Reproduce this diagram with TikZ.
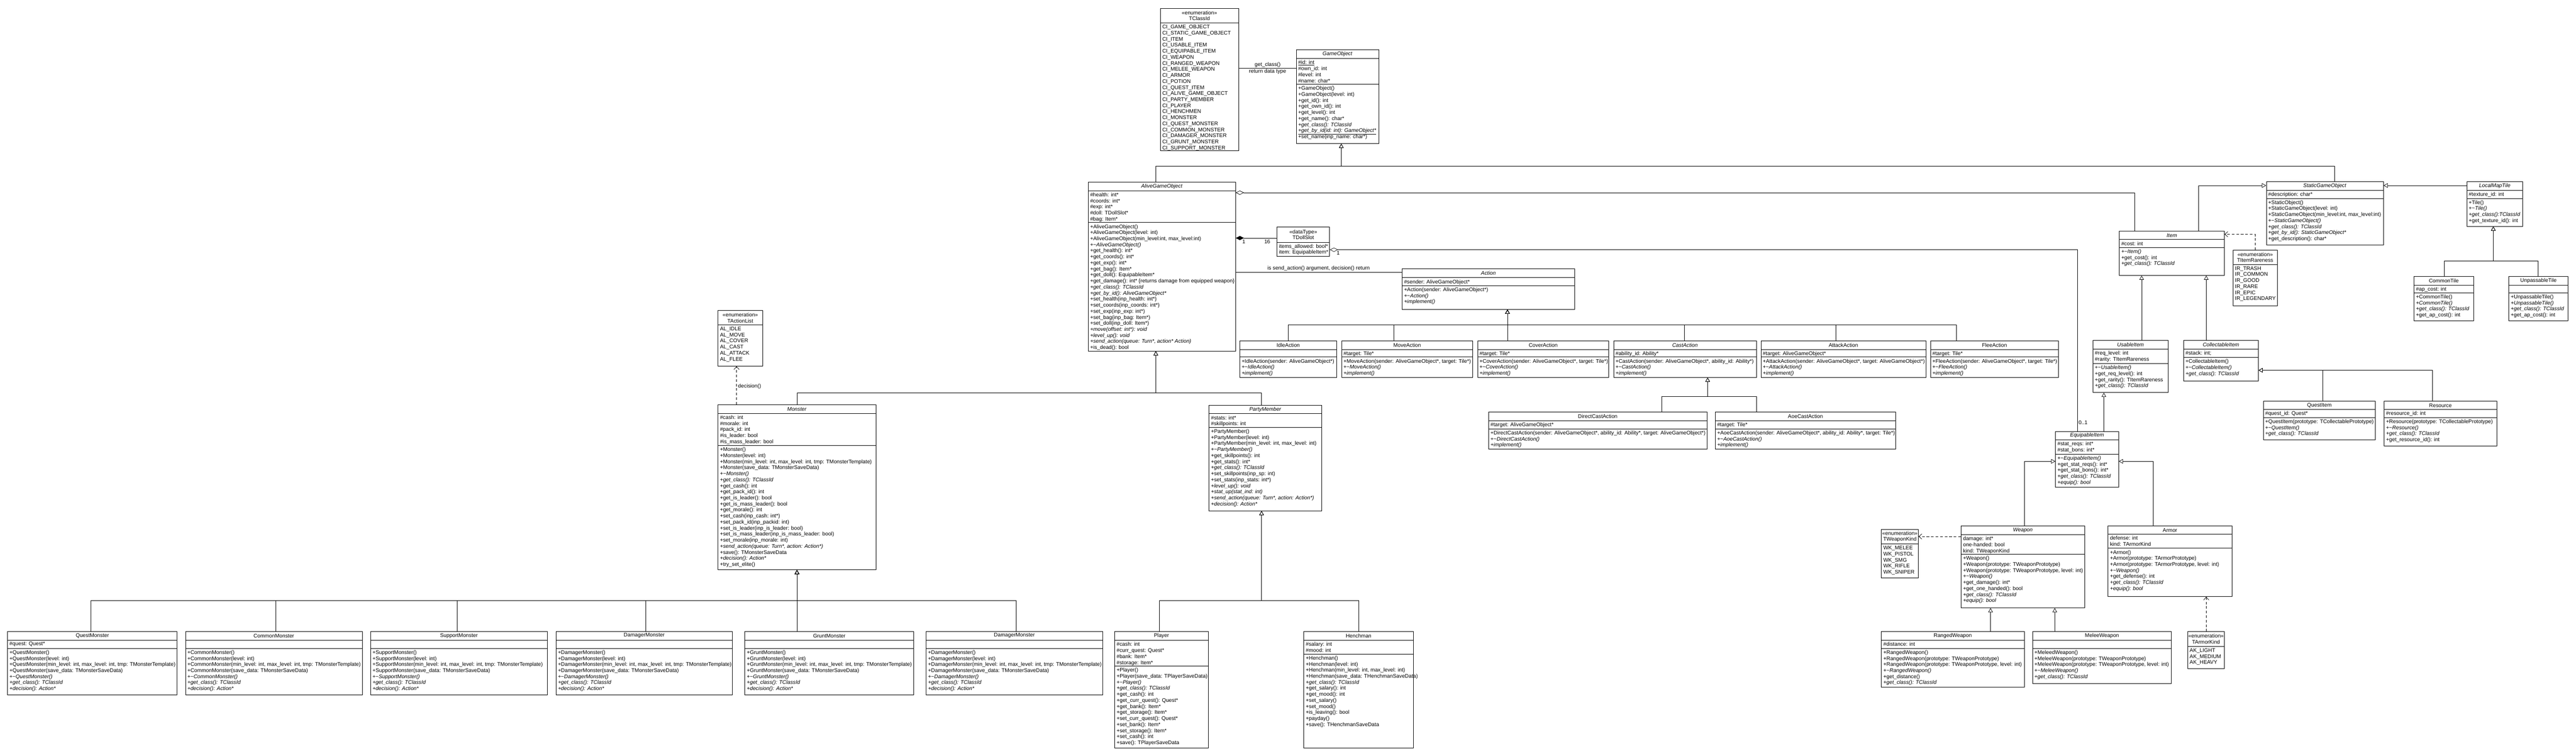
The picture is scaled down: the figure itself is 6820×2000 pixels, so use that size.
\documentclass[tikz,border=0pt]{standalone}
\usepackage{fontspec}
\setmainfont{Liberation Sans}
\usetikzlibrary{arrows.meta,fit}
\newcommand{\tld}{\textasciitilde}
\newcommand{\dtor}[1]{+\tld\textit{#1}}
\newcommand{\gcl}{\textit{+get\_class(): TClassId}}
\newcommand{\impl}{\textit{+implement()}}
\newcommand{\monmeth}[1]{+#1()\\+#1(level: int)\\+#1(min\_level: int, max\_level: int, tmp: TMonsterTemplate)\\+#1(save\_data: TMonsterSaveData)\\\dtor{#1()}\\\gcl\\\textit{+decision(): Action*}}
\newcommand{\umlbox}[8]{%
  \node[umlframe, fit={(#2,#3) (#4,#5)}] (#1) {};
  \draw[umlsep] (#2,#6) -- (#4,#6);
  \ifx\relax#7\relax\else\draw[umlsep] (#2,#7) -- (#4,#7);\fi
  \node[umltitle] at ({(#2+#4)/2},{(#3+#6)/2}) {#8};
}
\newcommand{\utext}[3]{\node[umltext] at ({#1+5},{#2+5}) {#3};}
\tikzset{
  umlframe/.style={draw, line width=1pt, inner sep=0pt},
  umlsep/.style={line width=1pt},
  umltitle/.style={align=center, inner sep=0pt},
  umltext/.style={anchor=north west, align=left, inner sep=0pt},
  gen/.style={line width=1pt, -{Triangle[open,length=11pt,width=12pt]}},
  dep/.style={line width=1pt, dash pattern=on 7pt off 5pt, -{Straight Barb[length=8pt,width=14pt]}},
  agg/.style={line width=1pt, {Diamond[open,length=22pt,width=11pt]}-},
  comp/.style={line width=1pt, {Diamond[length=22pt,width=11pt]}-},
  assoc/.style={line width=1pt},
  lbl/.style={inner sep=0pt},
}
\begin{document}
\begin{tikzpicture}[x=1pt, y=-1pt, every node/.append style={font=\fontsize{14}{16}\selectfont}]
\useasboundingbox (0,0) rectangle (6820,2000);
\fill[white] (0,0) rectangle (6820,2000);

% ---------- TClassId ----------
\umlbox{tclassid}{3072}{22}{3279}{399}{61}{}{«enumeration»\\TClassId}
\utext{3072}{61}{CI\_GAME\_OBJECT\\CI\_STATIC\_GAME\_OBJECT\\CI\_ITEM\\CI\_USABLE\_ITEM\\CI\_EQUIPABLE\_ITEM\\CI\_WEAPON\\CI\_RANGED\_WEAPON\\CI\_MELEE\_WEAPON\\CI\_ARMOR\\CI\_POTION\\CI\_QUEST\_ITEM\\CI\_ALIVE\_GAME\_OBJECT\\CI\_PARTY\_MEMBER\\CI\_PLAYER\\CI\_HENCHMEN\\CI\_MONSTER\\CI\_QUEST\_MONSTER\\CI\_COMMON\_MONSTER\\CI\_DAMAGER\_MONSTER\\CI\_GRUNT\_MONSTER\\CI\_SUPPORT\_MONSTER}

% ---------- GameObject ----------
\umlbox{gameobj}{3432}{131}{3650}{380}{155}{223}{\textit{GameObject}}
\utext{3432}{155}{\underline{\#id: int}\\\#own\_id: int\\\#level: int\\\#name: char*}
\utext{3432}{223}{+GameObject()\\+GameObject(level: int)\\+get\_id(): int\\+get\_own\_id(): int\\+get\_level(): int\\+get\_name(): char*\\\gcl\\\underline{\textit{+get\_by\_id(id: int): GameObject*}}\\+set\_name(inp\_name: char*)}

% ---------- AliveGameObject ----------
\umlbox{alive}{2881}{482}{3271}{929}{505}{589}{\textit{AliveGameObject}}
\utext{2881}{505}{\#health: int*\\\#coords: int*\\\#exp: int*\\\#doll: TDollSlot*\\\#bag: Item*}
\utext{2881}{589}{+AliveGameObject()\\+AliveGameObject(level: int)\\+AliveGameObject(min\_level:int, max\_level:int)\\\dtor{AliveGameObject()}\\+get\_health(): int*\\+get\_coords(): int*\\+get\_exp(): int*\\+get\_bag(): Item*\\+get\_doll(): EquipableItem*\\+get\_damage(): int* \{returns damage from equipped weapon\}\\\gcl\\\textit{+get\_by\_id(): AliveGameObject*}\\+set\_health(inp\_health: int*)\\+set\_coords(inp\_coords: int*)\\+set\_exp(inp\_exp: int*)\\+set\_bag(inp\_bag: Item*)\\+set\_doll(inp\_doll: Item*)\\\textit{+move(offset: int*): void}\\\textit{+level\_up(): void}\\\textit{+send\_action(queue: Turn*, action* Action)}\\+is\_dead(): bool}

% ---------- TDollSlot ----------
\umlbox{dollslot}{3381}{601}{3520}{679}{641}{}{«dataType»\\TDollSlot}
\utext{3381}{641}{items\_allowed: bool*\\item: EquipableItem*}

% ---------- Action ----------
\umlbox{action}{3712}{711}{4169}{819}{735}{756}{\textit{Action}}
\utext{3712}{735}{\#sender: AliveGameObject*}
\utext{3712}{756}{+Action(sender: AliveGameObject*)\\\dtor{Action()}\\\impl}

\umlbox{idle}{3282}{902}{3539}{999}{925}{945}{IdleAction}
\utext{3282}{945}{+IdleAction(sender: AliveGameObject*)\\\dtor{IdleAction()}\\\impl}
\umlbox{move}{3552}{902}{3899}{999}{925}{945}{MoveAction}
\utext{3552}{925}{\#target: Tile*}
\utext{3552}{945}{+MoveAction(sender: AliveGameObject*, target: Tile*)\\\dtor{MoveAction()}\\\impl}
\umlbox{cover}{3912}{902}{4259}{999}{925}{945}{CoverAction}
\utext{3912}{925}{\#target: Tile*}
\utext{3912}{945}{+CoverAction(sender: AliveGameObject*, target: Tile*)\\\dtor{CoverAction()}\\\impl}
\umlbox{cast}{4272}{902}{4650}{999}{925}{945}{\textit{CastAction}}
\utext{4272}{925}{\#ability\_id: Ability*}
\utext{4272}{945}{+CastAction(sender: AliveGameObject*, ability\_id: Ability*)\\\dtor{CastAction()}\\\impl}
\umlbox{attack}{4662}{902}{5099}{999}{925}{945}{AttackAction}
\utext{4662}{925}{\#target: AliveGameObject*}
\utext{4662}{945}{+AttackAction(sender: AliveGameObject*, target: AliveGameObject*)\\\dtor{AttackAction()}\\\impl}
\umlbox{flee}{5111}{902}{5450}{999}{925}{945}{FleeAction}
\utext{5111}{925}{\#target: Tile*}
\utext{5111}{945}{+FleeAction(sender: AliveGameObject*, target: Tile*)\\\dtor{FleeAction()}\\\impl}

\umlbox{direct}{3941}{1091}{4519}{1189}{1114}{1135}{DirectCastAction}
\utext{3941}{1114}{\#target: AliveGameObject*}
\utext{3941}{1135}{+DirectCastAction(sender: AliveGameObject*, ability\_id: Ability*, target: AliveGameObject*)\\\dtor{DirectCastAction()}\\\impl}
\umlbox{aoe}{4541}{1091}{5019}{1189}{1114}{1135}{AoeCastAction}
\utext{4541}{1114}{\#target: Tile*}
\utext{4541}{1135}{+AoeCastAction(sender: AliveGameObject*, ability\_id: Ability*, target: Tile*)\\\dtor{AoeCastAction()}\\\impl}

% ---------- TActionList / Monster ----------
\umlbox{actlist}{1901}{822}{2019}{969}{860}{}{«enumeration»\\TActionList}
\utext{1901}{860}{AL\_IDLE\\AL\_MOVE\\AL\_COVER\\AL\_CAST\\AL\_ATTACK\\AL\_FLEE}

\umlbox{monster}{1901}{1071}{2319}{1508}{1094}{1179}{\textit{Monster}}
\utext{1901}{1094}{\#cash: int\\\#morale: int\\\#pack\_id: int\\\#is\_leader: bool\\\#is\_mass\_leader: bool}
\utext{1901}{1179}{+Monster()\\+Monster(level: int)\\+Monster(min\_level: int, max\_level: int, tmp: TMonsterTemplate)\\+Monster(save\_data: TMonsterSaveData)\\\dtor{Monster()}\\\gcl\\+get\_cash(): int\\+get\_pack\_id(): int\\+get\_is\_leader(): bool\\+get\_is\_mass\_leader(): bool\\+get\_morale(): int\\+set\_cash(inp\_cash: int*)\\+set\_pack\_id(inp\_packid: int)\\+set\_is\_leader(inp\_is\_leader: bool)\\+set\_is\_mass\_leader(inp\_is\_mass\_leader: bool)\\+set\_morale(inp\_morale: int)\\\textit{+send\_action(queue: Turn*, action: Action*)}\\+save(): TMonsterSaveData\\\textit{+decision(): Action*}\\+try\_set\_elite()}

% ---------- PartyMember ----------
\umlbox{party}{3201}{1072}{3499}{1352}{1095}{1131}{\textit{PartyMember}}
\utext{3201}{1095}{\#stats: int*\\\#skillpoints: int}
\utext{3201}{1131}{+PartyMember()\\+PartyMember(level: int)\\+PartyMember(min\_level: int, max\_level: int)\\\dtor{PartyMember()}\\+get\_skillpoints(): int\\+get\_stats(): int*\\\gcl\\+set\_skillpoints(inp\_sp: int)\\+set\_stats(inp\_stats: int*)\\\textit{+level\_up(): void}\\\textit{+stat\_up(stat\_ind: int)}\\\textit{+send\_action(queue: Turn*, action: Action*)}\\\textit{+decision(): Action*}}

% ---------- Monster subclasses ----------
\umlbox{questm}{20}{1671}{469}{1839}{1694}{1716}{QuestMonster}
\utext{20}{1694}{\#quest: Quest*}
\utext{20}{1716}{\monmeth{QuestMonster}}
\umlbox{commonm}{491}{1671}{959}{1839}{1694}{1716}{CommonMonster}
\utext{491}{1716}{\monmeth{CommonMonster}}
\umlbox{supportm}{981}{1671}{1449}{1839}{1694}{1716}{SupportMonster}
\utext{981}{1716}{\monmeth{SupportMonster}}
\umlbox{damagerm}{1472}{1671}{1939}{1839}{1694}{1716}{DamagerMonster}
\utext{1472}{1716}{\monmeth{DamagerMonster}}
\umlbox{gruntm}{1972}{1671}{2419}{1839}{1694}{1716}{GruntMonster}
\utext{1972}{1716}{\monmeth{GruntMonster}}
\umlbox{damagermb}{2452}{1671}{2919}{1839}{1694}{1716}{DamagerMonster}
\utext{2452}{1716}{\monmeth{DamagerMonster}}

% ---------- Player / Henchman ----------
\umlbox{player}{2951}{1671}{3199}{1979}{1695}{1763}{Player}
\utext{2951}{1695}{\#cash: int\\\#curr\_quest: Quest*\\\#bank: Item*\\\#storage: Item*}
\utext{2951}{1763}{+Player()\\+Player(save\_data: TPlayerSaveData)\\\dtor{Player()}\\\gcl\\+get\_cash(): int\\+get\_curr\_quest(): Quest*\\+get\_bank(): Item*\\+get\_storage(): Item*\\+set\_curr\_quest(): Quest*\\+set\_bank(): Item*\\+set\_storage(): Item*\\+set\_cash(): int\\+save(): TPlayerSaveData}
\umlbox{hench}{3452}{1671}{3742}{1979}{1695}{1731}{Henchman}
\utext{3452}{1695}{\#salary: int\\\#mood: int}
\utext{3452}{1731}{+Henchman()\\+Henchman(level: int)\\+Henchman(min\_level: int, max\_level: int)\\+Henchman(save\_data: THenchmanSaveData)\\\gcl\\+get\_salary(): int\\+get\_mood(): int\\+set\_salary()\\+set\_mood()\\+is\_leaving(): bool\\+payday()\\+save(): THenchmanSaveData}

% ---------- Static objects ----------
\umlbox{static}{6000}{481}{6310}{649}{504}{525}{\textit{StaticGameObject}}
\utext{6000}{504}{\#description: char*}
\utext{6000}{525}{+StaticObject()\\+StaticGameObject(level: int)\\+StaticGameObject(min\_level:int, max\_level:int)\\\dtor{StaticGameObject()}\\\gcl\\\textit{+get\_by\_id(): StaticGameObject*}\\+get\_description(): char*}
\umlbox{tile}{6531}{481}{6679}{599}{504}{525}{\textit{LocalMapTile}}
\utext{6531}{504}{\#texture\_id: int}
\utext{6531}{525}{+Tile()\\\dtor{Tile()}\\\textit{+get\_class():TClassId}\\+get\_texture\_id(): int}
\umlbox{ctile}{6391}{731}{6549}{849}{755}{775}{CommonTile}
\utext{6391}{755}{\#ap\_cost: int}
\utext{6391}{775}{+CommonTile()\\\textit{+CommonTile()}\\\gcl\\+get\_ap\_cost(): int}
\umlbox{utile}{6642}{731}{6799}{849}{755}{775}{UnpassableTile}
\utext{6642}{775}{+UnpassableTile()\\\textit{+UnpassableTile()}\\\gcl\\+get\_ap\_cost(): int}

% ---------- Items ----------
\umlbox{item}{5611}{612}{5889}{729}{634}{655}{\textit{Item}}
\utext{5611}{634}{\#cost: int}
\utext{5611}{655}{\dtor{Item()}\\+get\_cost(): int\\\gcl}
\umlbox{rare}{5912}{662}{6029}{809}{700}{}{«enumeration»\\TItemRareness}
\utext{5912}{700}{IR\_TRASH\\IR\_COMMON\\IR\_GOOD\\IR\_RARE\\IR\_EPIC\\IR\_LEGENDARY}
\umlbox{usable}{5541}{901}{5740}{1039}{924}{962}{\textit{UsableItem}}
\utext{5541}{924}{\#req\_level: int\\\#rarity: TItemRareness}
\utext{5541}{962}{\dtor{UsableItem()}\\+get\_req\_level(): int\\+get\_rarity(): TItemRareness\\\gcl}
\umlbox{coll}{5781}{901}{5979}{1009}{924}{946}{\textit{CollectableItem}}
\utext{5781}{924}{\#stack: int;}
\utext{5781}{946}{+CollectableItem()\\\dtor{CollectableItem()}\\\gcl}
\umlbox{questi}{5992}{1062}{6289}{1164}{1084}{1105}{QuestItem}
\utext{5992}{1084}{\#quest\_id: Quest*}
\utext{5992}{1105}{+QuestItem(prototype: TCollectablePrototype)\\\dtor{QuestItem()}\\\gcl}
\umlbox{res}{6312}{1062}{6610}{1180}{1084}{1105}{Resource}
\utext{6312}{1084}{\#resource\_id: int}
\utext{6312}{1105}{+Resource(prototype: TCollectablePrototype)\\\dtor{Resource()}\\\gcl\\+get\_resource\_id(): int}
\umlbox{equip}{5442}{1142}{5609}{1290}{1164}{1202}{\textit{EquipableItem}}
\utext{5442}{1164}{\#stat\_reqs: int*\\\#stat\_bons: int*}
\utext{5442}{1202}{\dtor{EquipableItem()}\\+get\_stat\_reqs(): int*\\+get\_stat\_bons(): int*\\\gcl\\\textit{+equip(): bool}}
\umlbox{weapon}{5192}{1392}{5519}{1609}{1415}{1467}{\textit{Weapon}}
\utext{5192}{1415}{damage: int*\\one-handed: bool\\kind: TWeaponKind}
\utext{5192}{1467}{+Weapon()\\+Weapon(prototype: TWeaponPrototype)\\+Weapon(prototype: TWeaponPrototype, level: int)\\\dtor{Weapon()}\\+get\_damage(): int*\\+get\_one\_handed(): bool\\\gcl\\\textit{+equip(): bool}}
\umlbox{armor}{5581}{1392}{5909}{1579}{1414}{1451}{Armor}
\utext{5581}{1414}{defense: int\\kind: TArmorKind}
\utext{5581}{1451}{+Armor()\\+Armor(prototype: TArmorPrototype)\\+Armor(prototype: TArmorPrototype, level: int)\\\dtor{Weapon()}\\+get\_defense(): int\\\gcl\\\textit{+equip(): bool}}
\umlbox{wkind}{4981}{1401}{5079}{1529}{1440}{}{«enumeration»\\TWeaponKind}
\utext{4981}{1440}{WK\_MELEE\\WK\_PISTOL\\WK\_SMG\\WK\_RIFLE\\WK\_SNIPER}
\umlbox{ranged}{4981}{1672}{5359}{1819}{1695}{1716}{RangedWeapon}
\utext{4981}{1695}{\#distance: int}
\utext{4981}{1716}{+RangedWeapon()\\+RangedWeapon(prototype: TWeaponPrototype)\\+RangedWeapon(prototype: TWeaponPrototype, level: int)\\\dtor{RangedWeapon()}\\+get\_distance()\\\gcl}
\umlbox{melee}{5381}{1672}{5749}{1809}{1695}{1716}{MeleeWeapon}
\utext{5381}{1716}{+MeleedWeapon()\\+MeleeWeapon(prototype: TWeaponPrototype)\\+MeleeWeapon(prototype: TWeaponPrototype, level: int)\\\dtor{MeleeWeapon()}\\\gcl}
\umlbox{akind}{5792}{1672}{5889}{1769}{1711}{}{«enumeration»\\TArmorKind}
\utext{5792}{1711}{AK\_LIGHT\\AK\_MEDIUM\\AK\_HEAVY}

% ================= CONNECTORS =================
\draw[assoc] (tclassid.east |- 0,181) -- (gameobj.west |- 0,181);
\node[lbl] (lgc1) at (3356,172) {get\_class()};
\node[lbl] (lgc2) at (3356,189) {return data type};

\draw[gen] (3060,0 |- alive.north) |- (3551,440) -- (3551,0 |- gameobj.south);
\draw[gen] (6181,0 |- static.north) |- (3551,440) -- (3551,0 |- gameobj.south);

\draw[agg] (alive.east |- 0,510) -| (5651,0 |- item.north);
\draw[comp] (alive.east |- 0,630) -- (dollslot.west |- 0,630);
\node[lbl] (lc1) at (3293,639) {1};
\node[lbl] (lc16) at (3355,639) {16};
\draw[agg] (dollslot.east |- 0,661) -| (5500,0 |- equip.north);
\node[lbl] (la1) at (3543,669) {1};
\node[lbl, anchor=west] (la01) at (5503,1119) {0..1};

\draw[assoc] (alive.east |- 0,720) -- (action.west |- 0,720);
\node[lbl] (lsend) at (3491,710) {is send\_action() argument, decision() return};

\draw[gen] (3410,0 |- idle.north) |- (3991,860) -- (3991,0 |- action.south);
\draw[gen] (3690,0 |- move.north) |- (3991,860) -- (3991,0 |- action.south);
\draw[gen] (3991,0 |- cover.north) -- (3991,0 |- action.south);
\draw[gen] (4460,0 |- cast.north) |- (3991,860) -- (3991,0 |- action.south);
\draw[gen] (4860,0 |- attack.north) |- (3991,860) -- (3991,0 |- action.south);
\draw[gen] (5180,0 |- flee.north) |- (3991,860) -- (3991,0 |- action.south);
\draw[gen] (4400,0 |- direct.north) |- (4521,1050) -- (4521,0 |- cast.south);
\draw[gen] (4650,0 |- aoe.north) |- (4521,1050) -- (4521,0 |- cast.south);

\draw[gen] (2110,0 |- monster.north) |- (3060,1040) -- (3060,0 |- alive.south);
\draw[gen] (3340,0 |- party.north) |- (3060,1040) -- (3060,0 |- alive.south);

\draw[dep] (1950,0 |- monster.north) -- (1950,0 |- actlist.south);
\node[lbl, anchor=west] (ldec) at (1954,1023) {decision()};

\draw[gen] (240,0 |- questm.north) |- (2110,1590) -- (2110,0 |- monster.south);
\draw[gen] (730,0 |- commonm.north) |- (2110,1590) -- (2110,0 |- monster.south);
\draw[gen] (1210,0 |- supportm.north) |- (2110,1590) -- (2110,0 |- monster.south);
\draw[gen] (1710,0 |- damagerm.north) |- (2110,1590) -- (2110,0 |- monster.south);
\draw[gen] (2110,0 |- gruntm.north) -- (2110,0 |- monster.south);
\draw[gen] (2690,0 |- damagermb.north) |- (2110,1590) -- (2110,0 |- monster.south);

\draw[gen] (3070,0 |- player.north) |- (3340,1590) -- (3340,0 |- party.south);
\draw[gen] (3597,0 |- hench.north) |- (3340,1590) -- (3340,0 |- party.south);

\draw[gen] (5820,0 |- item.north) |- (static.west |- 0,491);
\draw[gen] (tile.west |- 0,491) -- (static.east |- 0,491);
\draw[gen] (6471,0 |- ctile.north) |- (6601,691) -- (6601,0 |- tile.south);
\draw[gen] (6720,0 |- utile.north) |- (6601,691) -- (6601,0 |- tile.south);

\draw[dep] (5970,0 |- rare.north) |- (item.east |- 0,620);
\draw[gen] (5670,0 |- usable.north) -- (5670,0 |- item.south);
\draw[gen] (5841,0 |- coll.north) -- (5841,0 |- item.south);
\draw[gen] (6150,0 |- questi.north) |- (coll.east |- 0,980);
\draw[gen] (6440,0 |- res.north) |- (coll.east |- 0,980);
\draw[gen] (5570,0 |- equip.north) -- (5570,0 |- usable.south);
\draw[gen] (5360,0 |- weapon.north) |- (equip.west |- 0,1221);
\draw[gen] (5700,0 |- armor.north) |- (equip.east |- 0,1221);
\draw[dep] (weapon.west |- 0,1420) -- (wkind.east |- 0,1420);
\draw[gen] (5270,0 |- ranged.north) -- (5270,0 |- weapon.south);
\draw[gen] (5440,0 |- melee.north) -- (5440,0 |- weapon.south);
\draw[dep] (5841,0 |- akind.north) -- (5841,0 |- armor.south);
\end{tikzpicture}
\end{document}
